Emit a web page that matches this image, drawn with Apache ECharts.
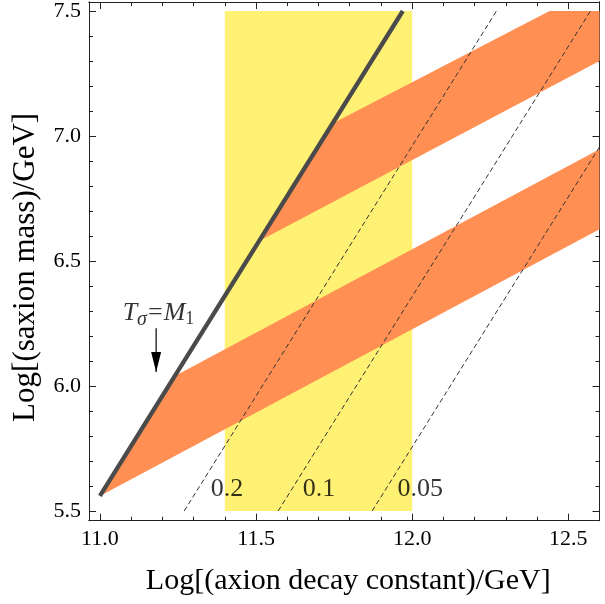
<!DOCTYPE html>
<html><head><meta charset="utf-8">
<script src="https://cdn.jsdelivr.net/npm/echarts@6/dist/echarts.min.js"></script>
<style>html,body{margin:0;padding:0;background:#fff}#c{width:605px;height:604px}</style>
</head><body><div id="c"></div>
<script>
// ---- data ----
const xMajorTicks = [11.0, 11.5, 12.0, 12.5];
const xMinorTicks = [11.1, 11.2, 11.3, 11.4, 11.6, 11.7, 11.8, 11.9, 12.1, 12.2, 12.3, 12.4, 12.6];
const yMajorTicks = [5.5, 6.0, 6.5, 7.0, 7.5];
const yMinorTicks = [5.6, 5.7, 5.8, 5.9, 6.1, 6.2, 6.3, 6.4, 6.6, 6.7, 6.8, 6.9, 7.1, 7.2, 7.3, 7.4];
const yellowRegion = [[11.4, 5.5], [12.0, 5.5], [12.0, 7.5], [11.4, 7.5]];
const lowerBand = [[11.0, 5.56], [11.24, 6.04], [12.6, 6.947], [12.6, 6.627]];
const upperBand = [[11.51, 6.58], [11.745, 7.05], [12.44, 7.5], [12.6, 7.5], [12.6, 7.30]];
const tEqualsMLine = [[11.0, 5.56], [11.97, 7.5]];
const dashLabels = ['0.2', '0.1', '0.05'];
const dashLines = [
  [[11.27, 5.5], [12.27, 7.5]],
  [[11.571, 5.5], [12.571, 7.5]],
  [[11.872, 5.5], [12.6, 6.956]]
];
const dashLabelPos = [[11.407, 5.587], [11.702, 5.587], [12.026, 5.587]];
const annotText = '{i|T}{s|σ}{e|=}{i|M}{d|1}';
const annotPos = [11.1875, 6.291];
const arrowPts = [[11.18, 6.231], [11.18, 6.056]];

const xMin = 10.965, xMax = 12.6, yMin = 5.461, yMax = 7.536;
const FONT = 'Liberation Serif';
const AX = '#222';

function xAx(pos, ticks, len, labels, extra) {
  return Object.assign({
    type: 'value', position: pos, min: xMin, max: xMax,
    axisLine: { show: true, onZero: false, lineStyle: { color: AX, width: 1 } },
    axisTick: { show: true, inside: true, length: len, customValues: ticks, lineStyle: { color: AX, width: 1 } },
    axisLabel: { show: labels, customValues: ticks, formatter: v => v.toFixed(1), fontFamily: FONT, fontSize: 22, color: '#000', margin: 8 },
    splitLine: { show: false }
  }, extra || {});
}
function yAx(pos, ticks, len, labels, extra) {
  return Object.assign({
    type: 'value', position: pos, min: yMin, max: yMax,
    axisLine: { show: true, onZero: false, lineStyle: { color: AX, width: 1 } },
    axisTick: { show: true, inside: true, length: len, customValues: ticks, lineStyle: { color: AX, width: 1 } },
    axisLabel: { show: labels, customValues: ticks, formatter: v => v.toFixed(1), fontFamily: FONT, fontSize: 22, color: '#000', margin: 8 },
    splitLine: { show: false }
  }, extra || {});
}

function polySeries(name, pts, color, z) {
  return {
    type: 'custom', name: name, data: pts, z: z, silent: true, clip: true,
    renderItem: function (params, api) {
      if (params.dataIndex !== 0) return null;
      return { type: 'polygon', shape: { points: pts.map(p => api.coord(p)) }, style: { fill: color } };
    }
  };
}

const series = [
  polySeries('yellow', yellowRegion, '#FFF173', 1),
  polySeries('lowerBand', lowerBand, '#FF8F52', 2),
  polySeries('upperBand', upperBand, '#FF8F52', 2)
];
dashLines.forEach((d, i) => series.push({
  type: 'line', name: 'dash' + dashLabels[i], data: d, z: 3, symbol: 'none', silent: true,
  lineStyle: { color: '#333', width: 1, type: [5, 3] }
}));
series.push({
  type: 'line', name: 'T=M', data: tEqualsMLine, z: 4, symbol: 'none', silent: true,
  lineStyle: { color: '#4a4a4a', width: 4.3, cap: 'butt' }
});
series.push({
  type: 'line', name: 'arrow', z: 5, silent: true,
  data: [
    { value: arrowPts[0], symbol: 'none' },
    { value: arrowPts[1], symbol: 'triangle', symbolSize: [10, 20], symbolRotate: 180, symbolOffset: [0, -10] }
  ],
  itemStyle: { color: '#000' },
  lineStyle: { color: '#000', width: 1.2 }
});
series.push({
  type: 'scatter', name: 'labels', z: 6, silent: true, symbolSize: 0,
  data: dashLabelPos.map((p, i) => ({ value: p, name: dashLabels[i] })),
  label: { show: true, position: 'inside', formatter: p => p.name, fontFamily: FONT, fontSize: 26, color: '#000' }
});
series.push({
  type: 'scatter', name: 'annot', z: 6, silent: true, symbolSize: 0,
  data: [{ value: annotPos }],
  label: {
    show: true, position: 'inside', formatter: annotText, fontFamily: FONT, color: '#000',
    rich: {
      i: { fontFamily: FONT, fontStyle: 'italic', fontSize: 26, color: '#000' },
      s: { fontFamily: FONT, fontStyle: 'italic', fontSize: 20, color: '#000', padding: [13, 0, 0, 0] },
      e: { fontFamily: FONT, fontSize: 26, color: '#000', padding: [0, 1, 0, 1] },
      d: { fontFamily: FONT, fontSize: 18, color: '#000', padding: [13, 0, 0, 0] }
    }
  }
});

const chart = echarts.init(document.getElementById('c'), null, { renderer: 'canvas' });
chart.setOption({
  animation: false,
  backgroundColor: '#fff',
  grid: { left: 89, top: 2, width: 510.5, height: 518.7, containLabel: false },
  xAxis: [
    xAx('bottom', xMajorTicks, 7, true, {
      name: 'Log[(axion decay constant)/GeV]', nameLocation: 'middle', nameGap: 45,
      nameTextStyle: { fontFamily: FONT, fontSize: 30, color: '#000', padding: [0, 0, 0, 8] }
    }),
    xAx('bottom', xMinorTicks, 4, false),
    xAx('top', xMajorTicks, 7, false),
    xAx('top', xMinorTicks, 4, false)
  ],
  yAxis: [
    yAx('left', yMajorTicks, 7, true, {
      name: 'Log[(saxion mass)/GeV]', nameLocation: 'middle', nameGap: 48,
      nameTextStyle: { fontFamily: FONT, fontSize: 31, color: '#000', padding: [0, 12, 0, 0] }
    }),
    yAx('left', yMinorTicks, 4, false),
    yAx('right', yMajorTicks, 7, false),
    yAx('right', yMinorTicks, 4, false)
  ],
  series: series
});
</script></body></html>
